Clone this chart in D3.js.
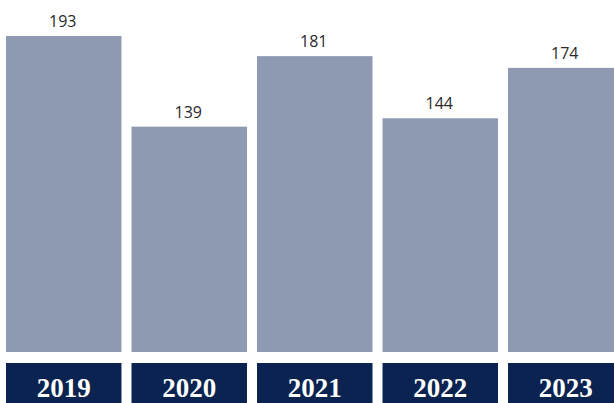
<!DOCTYPE html>
<html>
<head>
<meta charset="utf-8">
<script src="https://cdn.jsdelivr.net/npm/d3@7"></script>
<style>
body{margin:0;background:#fff;overflow:hidden;}
svg{display:block;}
</style>
</head>
<body>
<div id="chart"></div>
<script>
var years=["2019","2020","2021","2022","2023"];
var counts=[193,139,181,144,174];

var W=614,H=403;
var barBottom=352, boxTop=363;

var svg=d3.select("#chart")
	.append("svg")
	.attr("width",W)
	.attr("height",H);

var x=d3.scaleBand()
	.domain(years)
	.range([6,623.5])
	.paddingInner(0.08)
	.paddingOuter(0);

// zero sits a little under the visible bar floor
var y=d3.scaleLinear()
	.domain([0,d3.max(counts)])
	.range([360,36]);

var data=years.map(function(d,i){return {year:d,value:counts[i]};});

svg.selectAll("rect.bar")
	.data(data)
	.enter()
	.append("rect")
	.attr("class","bar")
	.attr("x",function(d){return x(d.year);})
	.attr("y",function(d){return y(d.value);})
	.attr("width",x.bandwidth())
	.attr("height",function(d){return barBottom-y(d.value);})
	.attr("fill","#8e9ab2");

svg.selectAll("text.val")
	.data(data)
	.enter()
	.append("text")
	.attr("class","val")
	.attr("x",function(d){return x(d.year)+x.bandwidth()/2-1;})
	.attr("y",function(d){return y(d.value)-9;})
	.attr("text-anchor","middle")
	.attr("font-family","'Open Sans', 'Noto Sans', sans-serif")
	.attr("font-size","16px")
	.attr("fill","#2a2a2a")
	.text(function(d){return d.value;});

var boxes=svg.selectAll("g.yr")
	.data(data)
	.enter()
	.append("g")
	.attr("class","yr");

boxes.append("rect")
	.attr("x",function(d){return x(d.year);})
	.attr("y",boxTop)
	.attr("width",x.bandwidth())
	.attr("height",H-boxTop+5)
	.attr("fill","#0b2350");

boxes.append("text")
	.attr("x",function(d){return x(d.year)+x.bandwidth()/2;})
	.attr("y",397)
	.attr("text-anchor","middle")
	.attr("font-family","'Liberation Serif', 'DejaVu Serif', serif")
	.attr("font-weight","bold")
	.attr("font-size","27px")
	.attr("fill","#fff")
	.text(function(d){return d.year;});
</script>
</body>
</html>
